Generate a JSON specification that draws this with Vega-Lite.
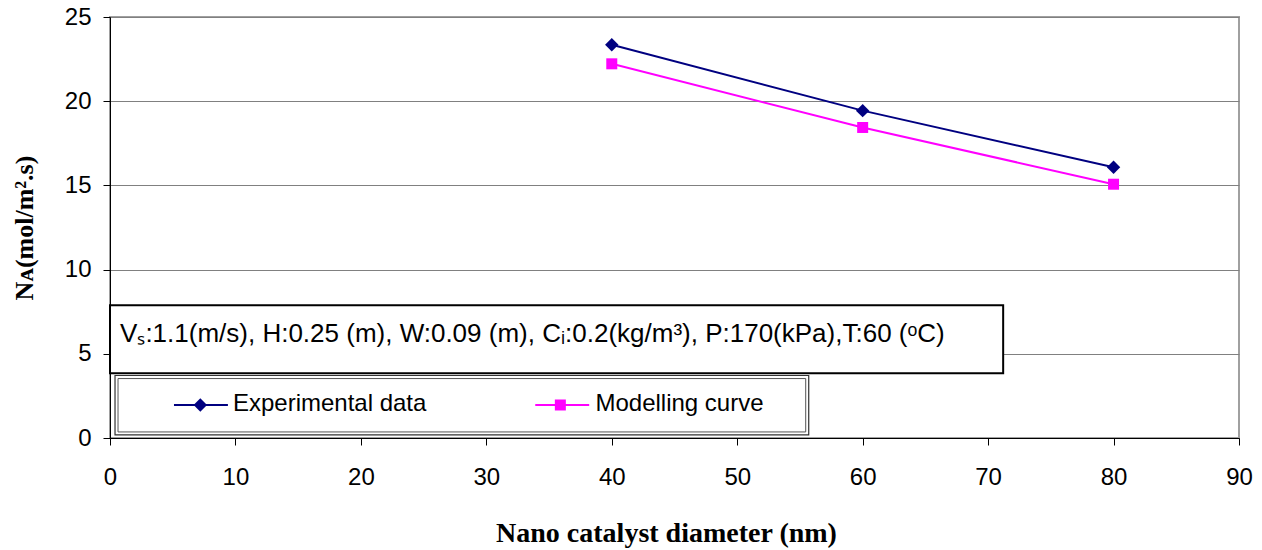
{
  "$schema": "https://vega.github.io/schema/vega-lite/v6.json",
  "autosize": {"type": "none"},
  "width": 1129,
  "height": 421,
  "padding": {"left": 110, "top": 17, "right": 23, "bottom": 112},
  "background": "white",
  "config": {
    "view": {"stroke": "#a0a0a0", "strokeWidth": 2},
    "axis": {
      "labelFont": "Liberation Sans",
      "labelFontSize": 24,
      "labelColor": "black",
      "labelFlush": false,
      "domainColor": "black",
      "tickColor": "black",
      "tickSize": 7,
      "titleFont": "Liberation Serif",
      "titleFontWeight": "bold",
      "titleFontSize": 26,
      "titleColor": "black"
    }
  },
  "datasets": {
    "series": [
      {"x": 40, "y": 23.35, "s": "Experimental data"},
      {"x": 60, "y": 19.44, "s": "Experimental data"},
      {"x": 80, "y": 16.08, "s": "Experimental data"},
      {"x": 40, "y": 22.22, "s": "Modelling curve"},
      {"x": 60, "y": 18.44, "s": "Modelling curve"},
      {"x": 80, "y": 15.07, "s": "Modelling curve"}
    ],
    "annobox": [{"x": 0, "x2": 71.2, "y": 7.89, "y2": 3.84}],
    "legouter": [{"x": 0.4, "x2": 55.7, "y": 3.71, "y2": 0.18}],
    "leginner": [{"x": 0.64, "x2": 55.46, "y": 3.53, "y2": 0.36}],
    "annotext": [{"x": 0.8, "y": 5.7, "t": "Vₛ:1.1(m/s), H:0.25 (m), W:0.09 (m), Cᵢ:0.2(kg/m³), P:170(kPa),T:60 (ᵒC)"}],
    "leglines": [
      {"x": 5.1, "x2": 9.4, "y": 1.96, "s": "Experimental data"},
      {"x": 33.9, "x2": 38.2, "y": 1.96, "s": "Modelling curve"}
    ],
    "legpts": [
      {"x": 7.2, "y": 1.96, "s": "Experimental data"},
      {"x": 35.9, "y": 1.96, "s": "Modelling curve"}
    ],
    "legtext": [
      {"x": 9.8, "y": 1.62, "t": "Experimental data"},
      {"x": 38.7, "y": 1.62, "t": "Modelling curve"}
    ]
  },
  "encoding": {
    "x": {
      "field": "x", "type": "quantitative",
      "scale": {"domain": [0, 90], "nice": false, "zero": false},
      "axis": {
        "values": [0, 10, 20, 30, 40, 50, 60, 70, 80, 90],
        "grid": false,
        "labelPadding": 20,
        "title": "Nano catalyst diameter (nm)",
        "titleFontSize": 28,
        "titlePadding": 30,
        "titleX": 556
      }
    },
    "y": {
      "field": "y", "type": "quantitative",
      "scale": {"domain": [0, 25], "nice": false, "zero": false},
      "axis": {
        "values": [0, 5, 10, 15, 20, 25],
        "grid": true,
        "gridColor": "#808080",
        "gridWidth": 1.2,
        "labelPadding": 12,
        "title": "Nᴀ(mol/m².s)",
        "titlePadding": 27
      }
    }
  },
  "layer": [
    {
      "data": {"name": "annobox"},
      "mark": {"type": "rect", "fill": "white", "stroke": "black", "strokeWidth": 2},
      "encoding": {"x2": {"field": "x2"}, "y2": {"field": "y2"}}
    },
    {
      "data": {"name": "legouter"},
      "mark": {"type": "rect", "fill": "white", "stroke": "#333333", "strokeWidth": 1.2},
      "encoding": {"x2": {"field": "x2"}, "y2": {"field": "y2"}}
    },
    {
      "data": {"name": "leginner"},
      "mark": {"type": "rect", "fill": "white", "stroke": "#555555", "strokeWidth": 1},
      "encoding": {"x2": {"field": "x2"}, "y2": {"field": "y2"}}
    },
    {
      "data": {"name": "annotext"},
      "mark": {"type": "text", "align": "left", "baseline": "alphabetic", "font": "Liberation Sans", "fontSize": 26, "color": "black"},
      "encoding": {"text": {"field": "t"}}
    },
    {
      "data": {"name": "leglines"},
      "mark": {"type": "rule", "strokeWidth": 2},
      "encoding": {
        "x2": {"field": "x2"},
        "color": {"field": "s", "type": "nominal", "scale": {"domain": ["Experimental data", "Modelling curve"], "range": ["#000080", "#FF00FF"]}, "legend": null}
      }
    },
    {
      "data": {"name": "legpts"},
      "mark": {"type": "point", "filled": true, "opacity": 1},
      "encoding": {
        "color": {"field": "s", "type": "nominal", "scale": {"domain": ["Experimental data", "Modelling curve"], "range": ["#000080", "#FF00FF"]}, "legend": null},
        "shape": {"field": "s", "type": "nominal", "scale": {"domain": ["Experimental data", "Modelling curve"], "range": ["diamond", "square"]}, "legend": null},
        "size": {"field": "s", "type": "nominal", "scale": {"domain": ["Experimental data", "Modelling curve"], "range": [180, 121]}, "legend": null}
      }
    },
    {
      "data": {"name": "legtext"},
      "mark": {"type": "text", "align": "left", "baseline": "alphabetic", "font": "Liberation Sans", "fontSize": 24, "color": "black"},
      "encoding": {"text": {"field": "t"}}
    },
    {
      "data": {"name": "series"},
      "mark": {"type": "line", "strokeWidth": 2},
      "encoding": {
        "color": {"field": "s", "type": "nominal", "scale": {"domain": ["Experimental data", "Modelling curve"], "range": ["#000080", "#FF00FF"]}, "legend": null}
      }
    },
    {
      "data": {"name": "series"},
      "mark": {"type": "point", "filled": true, "opacity": 1},
      "encoding": {
        "color": {"field": "s", "type": "nominal", "scale": {"domain": ["Experimental data", "Modelling curve"], "range": ["#000080", "#FF00FF"]}, "legend": null},
        "shape": {"field": "s", "type": "nominal", "scale": {"domain": ["Experimental data", "Modelling curve"], "range": ["diamond", "square"]}, "legend": null},
        "size": {"field": "s", "type": "nominal", "scale": {"domain": ["Experimental data", "Modelling curve"], "range": [180, 121]}, "legend": null}
      }
    }
  ]
}
